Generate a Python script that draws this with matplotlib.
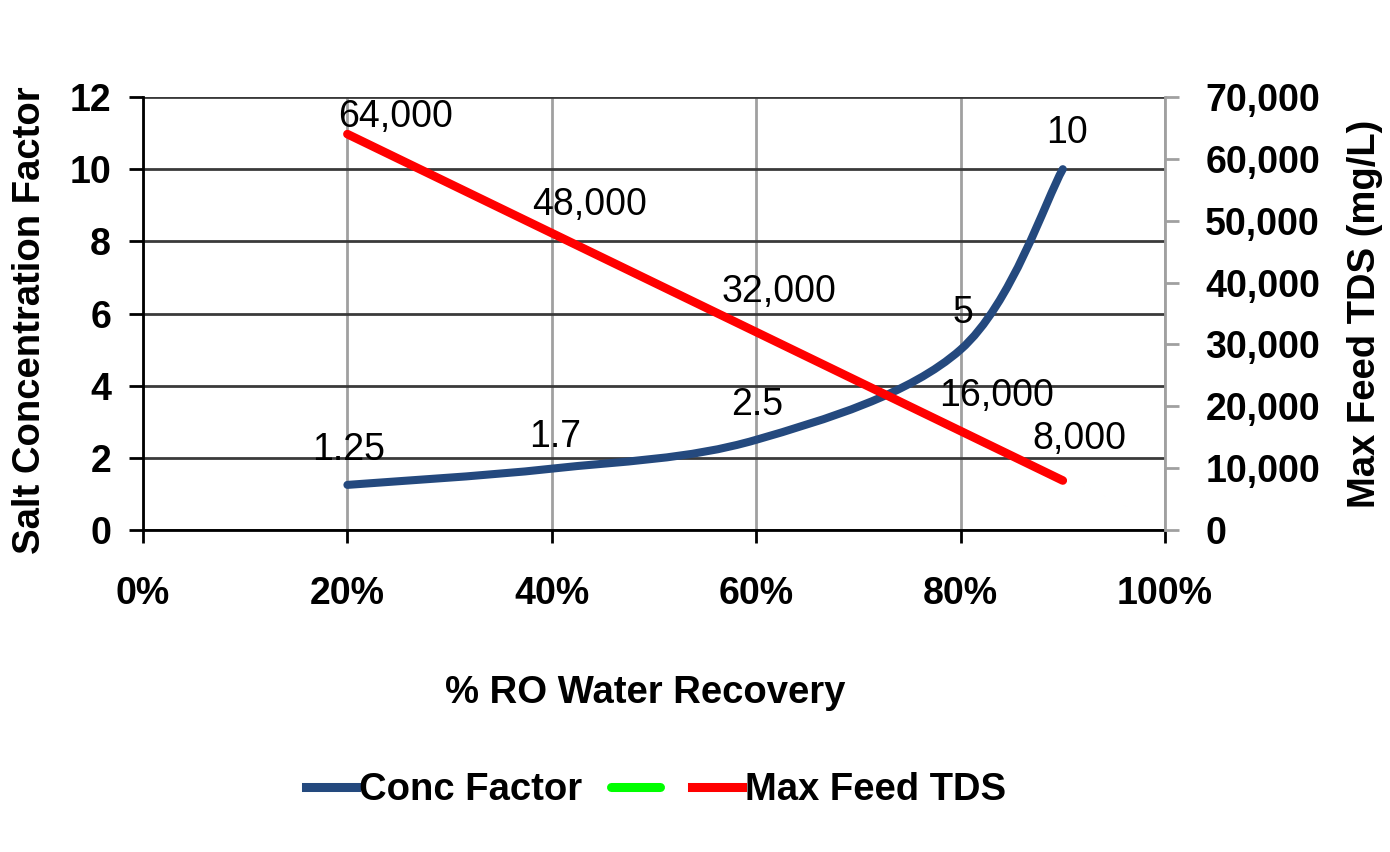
import matplotlib
matplotlib.use("Agg")
import matplotlib.pyplot as plt
from matplotlib.path import Path
from matplotlib.patches import PathPatch
from matplotlib.lines import Line2D
from matplotlib.ticker import FuncFormatter, PercentFormatter

plt.rcParams['font.family'] = ['Liberation Sans', 'DejaVu Sans']

# datos
recuperacion = [0.2, 0.4, 0.6, 0.8, 0.9]
factor_conc = [1.25, 1.7, 2.5, 5, 10]
tds_max = [64000, 48000, 32000, 16000, 8000]
etiquetas_factor = ["1.25", "1.7", "2.5", "5", "10"]
etiquetas_tds = ["64,000", "48,000", "32,000", "16,000", "8,000"]

AZUL = "#24497E"
ROJO = "#FF0000"
VERDE = "#00FF00"


def curva_suave(xs, ys):
    """Camino Bezier tipo 'linea suavizada' de Excel que pasa por los puntos."""
    pts = list(zip(xs, ys))
    verts = [pts[0]]
    codes = [Path.MOVETO]
    n = len(pts)
    for i in range(n - 1):
        p0 = pts[i - 1] if i > 0 else pts[i]
        p1 = pts[i]
        p2 = pts[i + 1]
        p3 = pts[i + 2] if i + 2 < n else pts[i + 1]
        c1 = (p1[0] + (p2[0] - p0[0]) / 6, p1[1] + (p2[1] - p0[1]) / 6)
        c2 = (p2[0] - (p3[0] - p1[0]) / 6, p2[1] - (p3[1] - p1[1]) / 6)
        verts += [c1, c2, p2]
        codes += [Path.CURVE4] * 3
    return Path(verts, codes)


fig = plt.figure(figsize=(13.9, 8.52), dpi=100)
ax = fig.add_axes([143 / 1390, 1 - 530 / 852, 1022 / 1390, 433 / 852])
ax2 = ax.twinx()

ax.set_xlim(0, 1)
ax.set_ylim(0, 12)
ax2.set_ylim(0, 70000)
ax.set_xticks([0, 0.2, 0.4, 0.6, 0.8, 1.0])
ax.set_yticks(range(0, 13, 2))
ax2.set_yticks(range(0, 70001, 10000))
ax.xaxis.set_major_formatter(PercentFormatter(1.0, decimals=0))
ax2.yaxis.set_major_formatter(FuncFormatter(lambda v, p: f"{int(v):,}"))

# rejilla: horizontales oscuras, verticales grises
ax.grid(axis="y", color="#3a3a3a", linewidth=2)
ax.grid(axis="x", color="#a0a0a0", linewidth=2)
ax.set_axisbelow(True)

ax.spines["top"].set_visible(False)
ax2.spines["top"].set_visible(False)
ax.spines["left"].set_color("black")
ax.spines["left"].set_linewidth(2)
ax.spines["bottom"].set_color("black")
ax.spines["bottom"].set_linewidth(2)
ax2.spines["right"].set_color("#a0a0a0")
ax2.spines["right"].set_linewidth(2)
ax.spines["right"].set_visible(False)
ax2.spines["left"].set_visible(False)
ax2.spines["bottom"].set_visible(False)

ax.tick_params(axis="y", direction="out", length=10, width=2, color="black",
               labelsize=27, pad=13)
ax.tick_params(axis="x", direction="out", length=9, width=2, color="black",
               labelsize=27, pad=24)
ax2.tick_params(axis="y", direction="out", length=10, width=2, color="#a0a0a0",
                labelsize=27, pad=19)
for lab in ax.get_xticklabels() + ax.get_yticklabels() + ax2.get_yticklabels():
    lab.set_fontweight("bold")

# series
curva = PathPatch(curva_suave(recuperacion, factor_conc), facecolor="none",
                  edgecolor=AZUL, linewidth=5.8, capstyle="round", zorder=3,
                  transform=ax.transData)
ax.add_patch(curva)
ax2.plot(recuperacion, tds_max, color=ROJO, linewidth=6.2,
         solid_capstyle="round", zorder=3)

# etiquetas de datos (desplazamientos en pixeles)
desp_factor = [(1, 35), (3, 32), (1, 35), (2, 37), (4, 36)]
desp_tds = [(48, 17), (38, 28), (23, 40), (36, 35), (17, 42)]
for x, y, t, d in zip(recuperacion, factor_conc, etiquetas_factor, desp_factor):
    ax.annotate(t, (x, y), xytext=d, textcoords="offset pixels",
                ha="center", va="center", fontsize=27, zorder=5)
for x, y, t, d in zip(recuperacion, tds_max, etiquetas_tds, desp_tds):
    ax2.annotate(t, (x, y), xytext=d, textcoords="offset pixels",
                 ha="center", va="center", fontsize=27, zorder=5)

ax.set_ylabel("Salt Concentration Factor", fontsize=27.5, fontweight="bold",
              va="center")
ax.yaxis.set_label_coords(-0.111, 0.485)
ax2.set_ylabel("Max Feed TDS (mg/L)", fontsize=27.5, fontweight="bold",
               va="center")
ax2.yaxis.set_label_coords(1.196, 0.499)
ax.set_xlabel("% RO Water Recovery", fontsize=27.5, fontweight="bold",
              va="center")
ax.xaxis.set_label_coords(0.491, -0.376)

manejadores = [
    Line2D([], [], color=AZUL, linewidth=6.5),
    Line2D([], [], color=VERDE, linewidth=6.5, solid_capstyle="round"),
    Line2D([], [], color=ROJO, linewidth=6.5),
]
fig.legend(manejadores, ["Conc Factor", "", "Max Feed TDS"], loc="center",
           bbox_to_anchor=(0.472, 1 - 790 / 852), ncol=3, frameon=False,
           handlelength=1.3, handletextpad=0.08, columnspacing=0.75,
           prop={"size": 27.5, "weight": "bold"})

fig.savefig("out.png", dpi=100)
